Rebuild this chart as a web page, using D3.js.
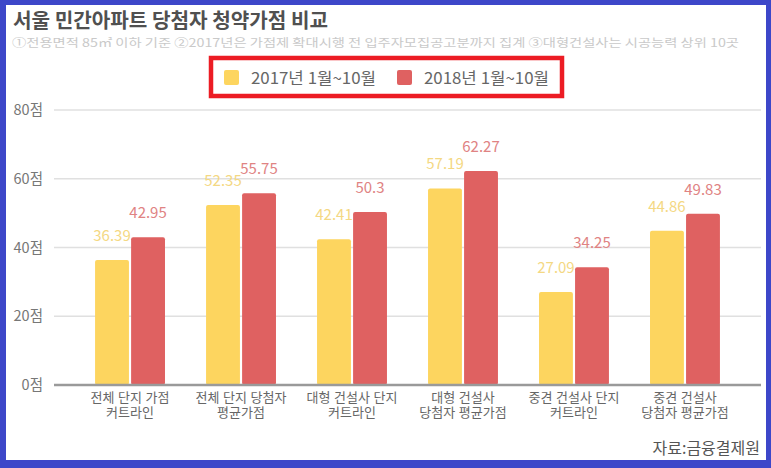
<!DOCTYPE html>
<html>
<head>
<meta charset="utf-8">
<script src="https://d3js.org/d3.v7.min.js"></script>
<style>
  body { margin: 0; background: #fff; }
  text { font-family: "Noto Sans CJK KR", "Noto Sans", sans-serif; }
  text.cat { font-family: "Liberation Sans", "Noto Sans CJK KR", sans-serif; }
</style>
</head>
<body>
<div id="chart"></div>
<script>
const categories = [
  ["전체 단지 가점", "커트라인"],
  ["전체 단지 당첨자", "평균가점"],
  ["대형 건설사 단지", "커트라인"],
  ["대형 건설사", "당첨자 평균가점"],
  ["중견 건설사 단지", "커트라인"],
  ["중견 건설사", "당첨자 평균가점"]
];
const seriesNames = ["2017년 1월~10월", "2018년 1월~10월"];
const values2017 = [36.39, 52.35, 42.41, 57.19, 27.09, 44.86];
const values2018 = [42.95, 55.75, 50.3, 62.27, 34.25, 49.83];
const yTicks = [0, 20, 40, 60, 80];

const width = 771, height = 468;
const barColors = ["#fdd55f", "#df6161"];
const labelColors = ["#f4d883", "#e08383"];

const svg = d3.select("#chart").append("svg")
  .attr("width", width).attr("height", height);

// blue frame
svg.append("rect").attr("width", width).attr("height", height).attr("fill", "#3d47c9");
svg.append("rect").attr("x", 6).attr("y", 5).attr("width", 760).attr("height", 455).attr("fill", "#fff");

// title + notes
svg.append("text").attr("x", 13).attr("y", 28)
  .attr("font-size", 20).attr("font-weight", "bold").attr("fill", "#505050")
  .attr("textLength", 315).attr("lengthAdjust", "spacingAndGlyphs")
  .text("서울 민간아파트 당첨자 청약가점 비교");
svg.append("text").attr("x", 12).attr("y", 47)
  .attr("font-size", 11.5).attr("fill", "#c9c9c9")
  .attr("textLength", 727).attr("lengthAdjust", "spacingAndGlyphs")
  .text("①전용면적 85㎡ 이하 기준 ②2017년은 가점제 확대시행 전 입주자모집공고분까지 집계 ③대형건설사는 시공능력 상위 10곳");

// legend with red box
svg.append("rect").attr("x", 211).attr("y", 58).attr("width", 351).attr("height", 38)
  .attr("fill", "none").attr("stroke", "#ec1c24").attr("stroke-width", 4.5);
const legendX = [224, 397];
const legend = svg.selectAll(".legend").data(seriesNames).enter().append("g")
  .attr("transform", (d, i) => `translate(${legendX[i]},70)`);
legend.append("rect").attr("width", 15).attr("height", 15).attr("rx", 2)
  .attr("fill", (d, i) => barColors[i]);
legend.append("text").attr("x", 27).attr("y", 14)
  .attr("font-size", 16).attr("fill", "#666")
  .attr("textLength", 125).attr("lengthAdjust", "spacingAndGlyphs")
  .text(d => d);

// scales
const plotLeft = 54, plotRight = 761;
const y = d3.scaleLinear().domain([0, 80]).range([385, 110]);
const x0 = d3.scaleBand().domain(d3.range(categories.length))
  .range([plotLeft, plotRight]).paddingInner(0.37).paddingOuter(0.37);
const x1 = d3.scaleBand().domain([0, 1]).range([0, x0.bandwidth()]).paddingInner(0.06);

// grid + y labels
const grid = svg.append("g");
grid.selectAll("line").data(yTicks.filter(t => t > 0)).enter().append("line")
  .attr("x1", plotLeft).attr("x2", plotRight)
  .attr("y1", d => y(d)).attr("y2", d => y(d))
  .attr("stroke", "#e0e0e0").attr("stroke-width", 1.5);
grid.selectAll("text").data(yTicks).enter().append("text")
  .attr("x", 43).attr("y", d => y(d)).attr("dy", "0.35em")
  .attr("text-anchor", "end").attr("font-size", 14.5).attr("fill", "#777")
  .text(d => d + "점");

// bars
const series = [values2017, values2018];
const groups = svg.selectAll(".grp").data(categories).enter().append("g")
  .attr("transform", (d, i) => `translate(${x0(i)},0)`);
series.forEach((vals, s) => {
  groups.append("rect")
    .attr("x", x1(s)).attr("width", x1.bandwidth())
    .attr("y", (d, i) => y(vals[i])).attr("height", (d, i) => y(0) - y(vals[i]))
    .attr("rx", 2).attr("fill", barColors[s]);
  groups.append("text")
    .attr("x", x1(s) + x1.bandwidth() / 2).attr("y", (d, i) => y(vals[i]) - 19)
    .attr("text-anchor", "middle").attr("font-size", 15).attr("fill", labelColors[s])
    .text((d, i) => vals[i]);
});

// baseline
svg.append("line").attr("x1", plotLeft).attr("x2", plotRight)
  .attr("y1", y(0)).attr("y2", y(0)).attr("stroke", "#9a9a9a").attr("stroke-width", 2.5);

// category labels (two lines each)
groups.each(function(d) {
  d3.select(this).selectAll(".cat").data(d).enter().append("text")
    .attr("class", "cat").attr("text-anchor", "middle")
    .attr("font-size", 13).attr("fill", "#666")
    .attr("x", x0.bandwidth() / 2).attr("y", (t, i) => 402 + i * 14.6)
    .text(t => t);
});

// source
svg.append("text").attr("x", 760).attr("y", 454).attr("text-anchor", "end")
  .attr("font-size", 16).attr("fill", "#555").text("자료:금융결제원");
</script>
</body>
</html>
